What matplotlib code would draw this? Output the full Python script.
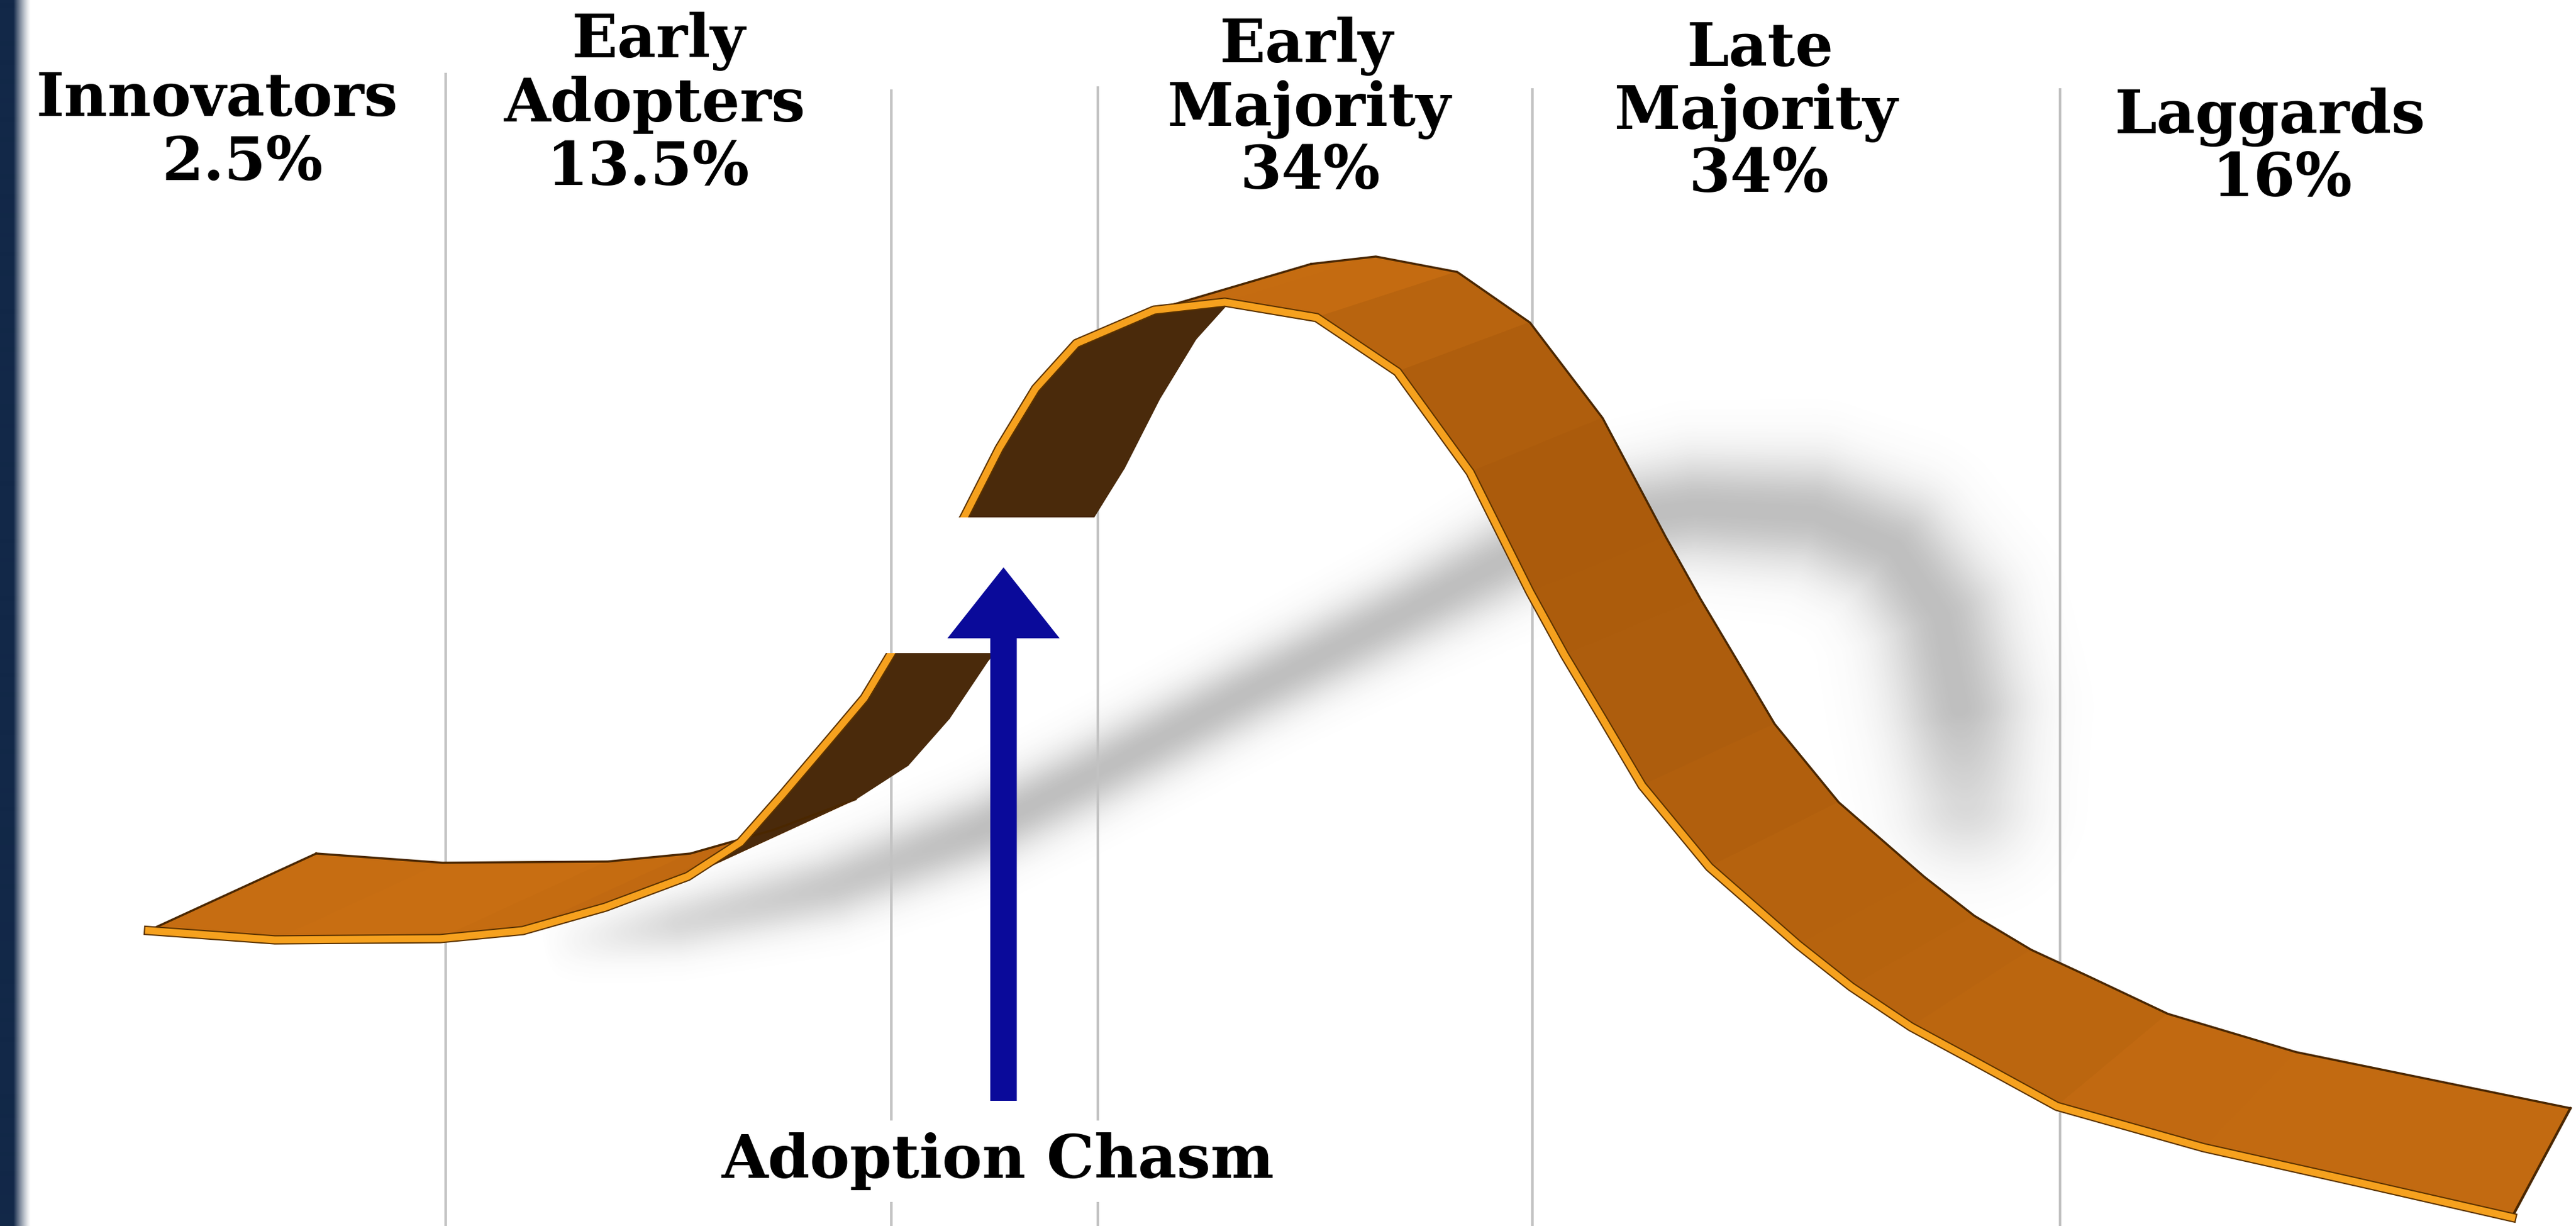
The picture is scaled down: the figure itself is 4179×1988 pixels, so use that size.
import numpy as np
import matplotlib
matplotlib.use("Agg")
import matplotlib.pyplot as plt
from matplotlib.path import Path
from matplotlib.patches import Polygon, FancyArrow
import matplotlib.patheffects as pe

W, H = 4179, 1988

# ---------------- data ----------------
segments = ["Innovators", "Early Adopters", "Early Majority", "Late Majority", "Laggards"]
shares = [2.5, 13.5, 34, 34, 16]
chasm_label = "Adoption Chasm"

# divider lines between adopter groups
segment_bounds = [723, 1446, 1781, 2486, 3342]
divider_top = [118, 145, 140, 143, 143]

# near (front) edge of the adoption ribbon
front_x = [241, 446, 714, 848, 982, 1116, 1201, 1268, 1348, 1402, 1446, 1490, 1528,
           1564, 1621, 1680, 1746, 1872, 1987, 2136, 2267, 2385, 2482, 2538, 2599,
           2664, 2773, 2917, 3003, 3100, 3200, 3337, 3575, 3825, 4075]
front_y = [1509, 1524, 1522, 1509, 1471, 1421, 1366, 1290, 1196, 1132, 1059, 975, 905,
           839, 727, 630, 557, 503, 490, 515, 603, 766, 960, 1062, 1164,
           1274, 1406, 1532, 1600, 1665, 1719, 1794, 1861, 1917, 1974]
# depth of the ribbon (offset of the far edge)
depth_dx = [272, 272, 272, 272, 272, 272, 272, 272, 255, 258, 262, 262, 260,
            260, 260, 260, 258, 255, 245, 228, 215, 215, 220, 220, 218,
            215, 210, 205, 200, 195, 190, 180, 150, 125, 95]
depth_dy = [-125, -125, -125, -125, -125, -125, -125, -125, -125, -122, -110, -100, -88,
            -80, -80, -80, -78, -75, -74, -74, -80, -88, -90, -92, -95,
            -100, -105, -110, -115, -125, -135, -150, -155, -165, -177]

# chasm gap in the ribbon
chasm_top, chasm_bottom = 839, 1059

# cast shadow path
shadow_x = [880, 1100, 1350, 1600, 1760, 2025, 2290, 2450, 2600, 2750, 2945, 3075, 3150, 3180, 3190, 3190]
shadow_y = [1540, 1500, 1440, 1345, 1265, 1125, 990, 905, 845, 825, 835, 890, 1000, 1150, 1300, 1400]
shadow_w = [28, 33, 38, 40, 40, 40, 42, 46, 52, 58, 62, 66, 70, 72, 70, 62]

# label layout
label_x = [[352, 393], [1068, 1062, 1051], [2119, 2124, 2125], [2856, 2849, 2853], [3683, 3702]]
label_base = [[188, 292], [93, 197, 300], [101, 204, 306], [107, 209, 311], [216, 318]]

# ---------------- figure ----------------
fig = plt.figure(figsize=(W / 100, H / 100), dpi=100)
ax = fig.add_axes([0, 0, 1, 1])
ax.set_xlim(0, W)
ax.set_ylim(H, 0)
ax.axis("off")
fig.patch.set_facecolor("white")

# shadow
ds = 4
gx = (np.arange(W // ds + 1) + 0.5) * ds
gy = (np.arange(H // ds + 1) + 0.5) * ds
GX, GY = np.meshgrid(gx, gy)
val = np.zeros_like(GX)
sx = np.array(shadow_x, float)
sy = np.array(shadow_y, float)
sw = np.array(shadow_w, float)
fade = np.ones(len(sx))
fade[0], fade[1], fade[2] = 0.0, 0.6, 0.85
fade[-2], fade[-1] = 0.6, 0.0
for i in range(len(sx) - 1):
    vx, vy = sx[i + 1] - sx[i], sy[i + 1] - sy[i]
    L2 = vx * vx + vy * vy
    t = np.clip(((GX - sx[i]) * vx + (GY - sy[i]) * vy) / L2, 0, 1)
    d = np.hypot(GX - (sx[i] + t * vx), GY - (sy[i] + t * vy))
    w = sw[i] + t * (sw[i + 1] - sw[i])
    f = fade[i] + t * (fade[i + 1] - fade[i])
    val = np.maximum(val, f * np.exp(-0.5 * (d / w) ** 2))
rgba = np.zeros(GX.shape + (4,))
rgba[..., :3] = 0.3
rgba[..., 3] = 0.36 * val
ax.imshow(rgba, extent=(0, W, H, 0), interpolation="bilinear", zorder=1, aspect="auto")

# divider lines
ax.vlines(segment_bounds, divider_top, H, colors="#C2C2C2", lw=3, zorder=2)

# ribbon
fx = np.array(front_x, float)
fy = np.array(front_y, float)
bx = fx + np.array(depth_dx, float)
by = fy + np.array(depth_dy, float)

clip_verts = [(-100, -100), (W + 100, -100), (W + 100, H + 100), (-100, H + 100),
              (-100, chasm_bottom), (1950, chasm_bottom), (1950, chasm_top),
              (-100, chasm_top), (-100, -100)]
clip_path = Path(clip_verts, closed=True)

flat_c = np.array(matplotlib.colors.to_rgb("#C86E12"))
steep_c = np.array(matplotlib.colors.to_rgb("#AA5B0C"))
under_c = "#4A2A0B"

for i in range(len(fx) - 1):
    ex, ey = fx[i + 1] - fx[i], fy[i + 1] - fy[i]
    ox, oy = depth_dx[i], depth_dy[i]
    cross = ex * oy - ey * ox
    if cross < 0:
        ang = abs(np.degrees(np.arctan2(ey, ex)))
        s = min(1.0, ang / 65.0)
        c = tuple(flat_c * (1 - s) + steep_c * s)
    else:
        c = under_c
    poly = Polygon([[fx[i], fy[i]], [fx[i + 1], fy[i + 1]], [bx[i + 1], by[i + 1]], [bx[i], by[i]]],
                   closed=True, fc=c, ec=c, lw=1.2, zorder=3, joinstyle="round")
    ax.add_patch(poly)
    poly.set_clip_path(clip_path, ax.transData)

outline = "#4A2700"
edge_lines = []
edge_lines += ax.plot(bx[:6], by[:6], color=outline, lw=2.5, zorder=4)
edge_lines += ax.plot(bx[17:], by[17:], color=outline, lw=2.5, zorder=4)
edge_lines += ax.plot([fx[17], bx[17]], [fy[17], by[17]], color=outline, lw=2.5, zorder=4)
edge_lines += ax.plot([fx[0], bx[0]], [fy[0], by[0]], color=outline, lw=2.5, zorder=4)
edge_lines += ax.plot([fx[-1], bx[-1]], [fy[-1], by[-1]], color=outline, lw=3, zorder=4)
edge_lines += ax.plot(fx, fy, color="#F6A11E", lw=8, zorder=4.5, solid_joinstyle="round",
                      path_effects=[pe.Stroke(linewidth=11, foreground="#5C3300"), pe.Normal()])
for ln in edge_lines:
    ln.set_clip_path(clip_path, ax.transData)

# chasm arrow
arrow = FancyArrow(1628, 1785, 0, 920 - 1785, width=43, head_width=182, head_length=115,
                   length_includes_head=True, fc="#0A0A9A", ec="#0A0A9A", lw=0, zorder=5)
ax.add_patch(arrow)

# labels
font = dict(family=["DejaVu Serif"], weight="bold", size=70)
for name, share, xs, bs in zip(segments, shares, label_x, label_base):
    lines = name.split() + [f"{share:g}%"]
    for txt, x, b in zip(lines, xs, bs):
        ax.text(x, b, txt, ha="center", va="baseline", color="black", zorder=6, **font)

ax.text(1619, 1910, chasm_label, ha="center", va="baseline", color="black", zorder=6,
        bbox=dict(facecolor="white", edgecolor="none", pad=14), **font)

# left navy edge bar
grad = np.zeros((1, 50, 4))
navy = np.array([18, 40, 72]) / 255
for j in range(50):
    x = j + 0.5
    a = 1.0 if x < 22 else max(0.0, 1 - (x - 22) / 28) ** 1.3
    grad[0, j, :3] = navy
    grad[0, j, 3] = a
ax.imshow(grad, extent=(0, 50, H, 0), zorder=7, aspect="auto", interpolation="bilinear")

ax.set_xlim(0, W)
ax.set_ylim(H, 0)
fig.savefig("out.png", dpi=100, facecolor="white")
